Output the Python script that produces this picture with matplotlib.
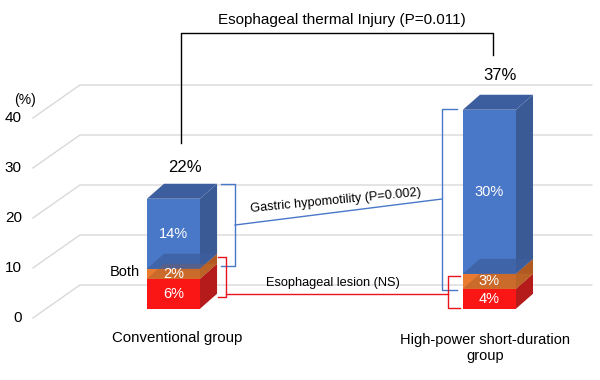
import numpy as np
import matplotlib.pyplot as plt
from matplotlib.patches import Polygon

plt.rcParams['font.family'] = ['Liberation Sans', 'DejaVu Sans']

# ---------------- data
groups = ['Conventional group', 'High-power short-duration\ngroup']
lesion_only = [6, 4]          # red
both = [2, 3]                 # orange
hypomotility_only = [14, 32.8]  # blue (drawn height)
lesion_lbl = ['6%', '4%']
both_lbl = ['2%', '3%']
hypo_lbl = ['14%', '30%']
total_lbl = ['22%', '37%']
yticks = [0, 10, 20, 30, 40]

# ---------------- style
c_front = ['#fb1616', '#ea7a30', '#4a78c8']
c_side = ['#b61b1b', '#b05a22', '#3a5a96']
c_top = ['#c81e1e', '#c0652a', '#3d5e9e']
grid_c = '#d9d9d9'

bar_w = 0.168
dx_bar, dy_bar = 0.054, 3.0     # bar depth
base_off = 1.85                 # bar front sits behind the front plane
gx0, gx1, gx2, gdy = -0.445, -0.296, 1.324, 6.6

fig = plt.figure(figsize=(6, 3.8), dpi=100)
ax = fig.add_axes([0, 0, 1, 1])
ax.set_xlim(-0.549, 1.350)
ax.set_ylim(-12.4, 63.6)
ax.axis('off')

# gridlines (3d floor/back wall look)
for v in yticks:
    ax.plot([gx0, gx1, gx2], [v, v + gdy, v + gdy], color=grid_c, lw=1, zorder=1)
    ax.text(gx0 - 0.035, v, str(v), ha='right', va='center', fontsize=11)
ax.text(-0.47, 43.6, '(%)', ha='center', va='center', fontsize=10)

# stacked 3d bars
for i in range(len(groups)):
    segs = [lesion_only[i], both[i], hypomotility_only[i]]
    lbls = [lesion_lbl[i], both_lbl[i], hypo_lbl[i]]
    x0 = i - bar_w / 2
    x1 = i + bar_w / 2
    y = base_off
    for k, h in enumerate(segs):
        yb, yt = y, y + h
        ax.add_patch(Polygon([(x0, yb), (x1, yb), (x1, yt), (x0, yt)],
                             closed=True, fc=c_front[k], ec='none', zorder=3))
        ax.add_patch(Polygon([(x1, yb), (x1 + dx_bar, yb + dy_bar),
                              (x1 + dx_bar, yt + dy_bar), (x1, yt)],
                             closed=True, fc=c_side[k], ec='none', zorder=3))
        if k > 0:
            # lower segment top seen through the translucent face
            ax.add_patch(Polygon([(x0, yb), (x1, yb), (x1 + dx_bar, yb + dy_bar),
                                  (x0 + dx_bar, yb + dy_bar)],
                                 closed=True, fc=c_top[k], ec='none', alpha=0.75, zorder=3.5))
        ax.text(i, (yb + yt) / 2, lbls[k], color='white', ha='center', va='center',
                fontsize=10.5, zorder=5)
        y = yt
    ax.add_patch(Polygon([(x0, y), (x1, y), (x1 + dx_bar, y + dy_bar),
                          (x0 + dx_bar, y + dy_bar)],
                         closed=True, fc=c_top[2], ec='none', zorder=3))

# totals and category labels
ax.text(0.036, 30.2, total_lbl[0], ha='center', va='center', fontsize=12)
ax.text(1.033, 48.4, total_lbl[1], ha='center', va='center', fontsize=12)
ax.text(0.011, -4.0, groups[0], ha='center', va='center', fontsize=10.8)
ax.text(0.986, -6.0, groups[1], ha='center', va='center', fontsize=10.5, linespacing=1.25)
ax.text(-0.153, 9.2, 'Both', ha='center', va='center', fontsize=10.5)

# thermal injury bracket
ax.plot([0.024, 0.024, 1.011, 1.011], [35.0, 57.0, 57.0, 52.6], color='black', lw=1)
ax.text(0.533, 59.6, 'Esophageal thermal Injury (P=0.011)', ha='center', va='center',
        fontsize=11)

# gastric hypomotility brackets
blue = '#4a78c8'
ax.plot([0.150, 0.195, 0.195, 0.150], [26.8, 26.8, 10.4, 10.4], color=blue, lw=1)
ax.plot([0.897, 0.850, 0.850, 0.897], [41.8, 41.8, 5.6, 5.6], color=blue, lw=1)
ax.plot([0.195, 0.850], [18.6, 23.8], color=blue, lw=1)
ax.text(0.515, 23.4, 'Gastric hypomotility (P=0.002)', ha='center', va='center',
        fontsize=9.2, rotation=5.5)

# esophageal lesion brackets
red = '#e8141c'
ax.plot([0.141, 0.166, 0.166, 0.141], [12.2, 12.2, 4.2, 4.2], color=red, lw=1)
ax.plot([0.907, 0.869, 0.869, 0.907], [8.4, 8.4, 2.0, 2.0], color=red, lw=1)
ax.plot([0.166, 0.869], [4.8, 4.8], color=red, lw=1)
ax.text(0.505, 7.0, 'Esophageal lesion (NS)', ha='center', va='center', fontsize=9.2)

fig.savefig('out.png', dpi=100)
